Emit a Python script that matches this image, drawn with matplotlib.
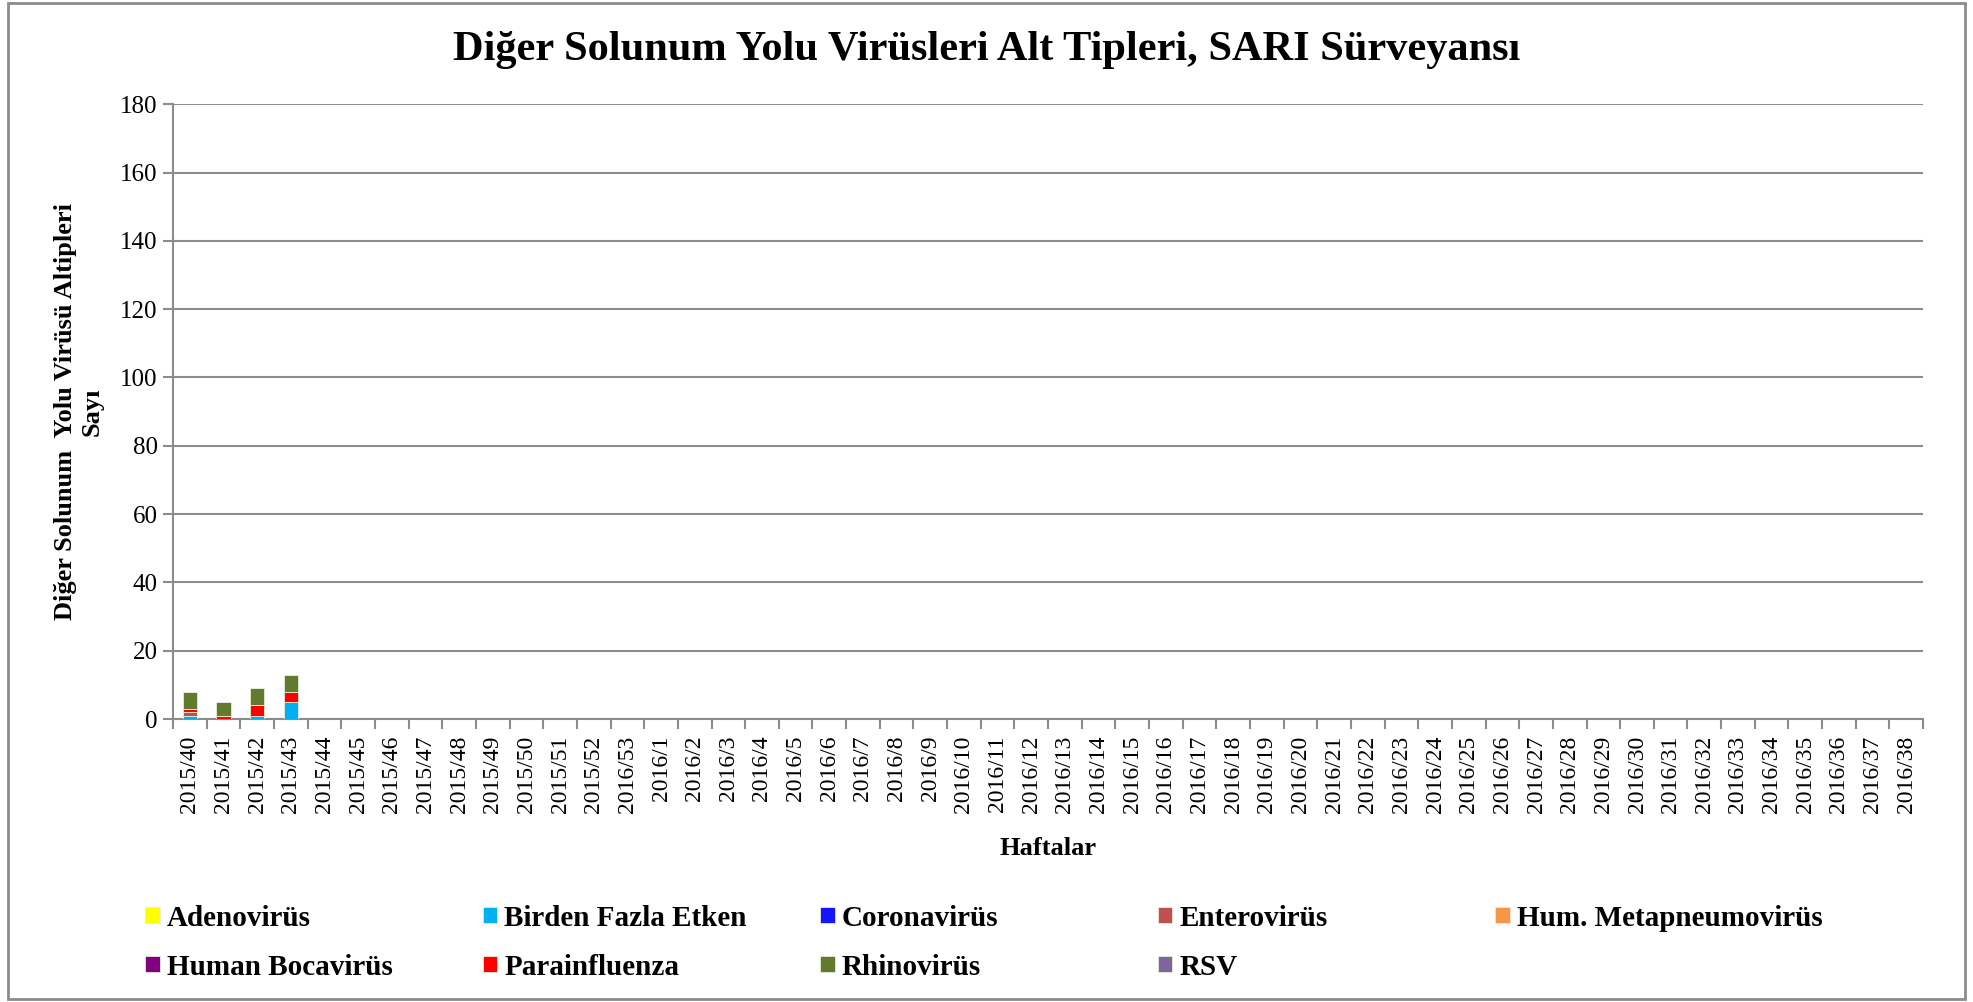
import numpy as np
import matplotlib.pyplot as plt
from matplotlib.patches import Rectangle

weeks = [f"2015/{w}" for w in range(40, 53)] + ["2016/53"] + [f"2016/{w}" for w in range(1, 39)]

series_names = ["Adenovirüs", "Birden Fazla Etken", "Coronavirüs", "Enterovirüs",
                "Hum. Metapneumovirüs", "Human Bocavirüs", "Parainfluenza",
                "Rhinovirüs", "RSV"]
series_colors = ["#FFFF00", "#00B0F0", "#1414FF", "#C0504D", "#F79646",
                 "#800080", "#FF0000", "#617A2E", "#8064A2"]

# first four weeks have data, rest zero
adeno = [0, 0, 0, 0]
birden = [1, 0, 1, 5]
corona = [0, 0, 0, 0]
entero = [1, 0, 0, 0]
metapneumo = [0, 0, 0, 0]
bocavirus = [0, 0, 0, 0]
parainfluenza = [1, 1, 3, 3]
rhino = [5, 4, 5, 5]
rsv = [0, 0, 0, 0]

data = [adeno, birden, corona, entero, metapneumo, bocavirus, parainfluenza, rhino, rsv]

n = len(weeks)
x = np.arange(n)

plt.rcParams['font.family'] = ['Liberation Serif', 'DejaVu Serif']

fig = plt.figure(figsize=(19.73, 10.02), dpi=100)
ax = fig.add_axes([0.0877, 0.2824, 0.887, 0.6136])

bottom = np.zeros(n)
handles = []
for name, col, vals in zip(series_names, series_colors, data):
    v = np.zeros(n)
    v[:len(vals)] = vals
    b = ax.bar(x, v, 0.42, bottom=bottom, color=col, label=name, zorder=3,
               edgecolor="#e8ecd8", linewidth=0.6)
    handles.append(b)
    bottom += v

ax.set_xlim(-0.5, n - 0.5)
ax.set_ylim(0, 180)
ax.set_yticks(range(0, 181, 20))
ax.yaxis.grid(True, color="#8c8c8c", linewidth=1.5, zorder=0)
ax.set_axisbelow(True)

ax.set_xticks(x)
ax.set_xticklabels(weeks, rotation=90, fontsize=17)
ax.set_xticks(np.arange(-0.5, n, 1), minor=True)
ax.tick_params(axis='x', which='major', length=0, pad=12)
ax.tick_params(axis='x', which='minor', length=7, color="#8c8c8c", width=1.5)
ax.tick_params(axis='y', labelsize=18, length=7, color="#8c8c8c", width=1.5, pad=4)

for s in ["top", "right"]:
    ax.spines[s].set_visible(False)
for s in ["left", "bottom"]:
    ax.spines[s].set_color("#8c8c8c")
    ax.spines[s].set_linewidth(1.5)

ax.set_xlabel("Haftalar", fontsize=19, fontweight="bold", labelpad=17)
ax.set_ylabel("Diğer Solunum  Yolu Virüsü Altipleri\nSayı", fontsize=19,
              fontweight="bold", labelpad=12)

fig.text(0.5, 0.95, "Diğer Solunum Yolu Virüsleri Alt Tipleri, SARI Sürveyansı",
         fontsize=30.5, fontweight="bold", ha="center", va="center")

# legend laid out row-wise, 5 equally spaced columns
rows = [0.0838, 0.0349]
for i, (h, name) in enumerate(zip(handles, series_names)):
    r, c = divmod(i, 5)
    fig.legend([h], [name], loc="center left",
               bbox_to_anchor=(0.0735 + c * 0.1711, rows[r]),
               frameon=False, borderpad=0, borderaxespad=0,
               handlelength=0.5, handleheight=0.5, handletextpad=0.25,
               prop={'size': 21, 'weight': 'bold'})

fig.patches.append(Rectangle((0.004, 0.003), 0.992, 0.994, transform=fig.transFigure,
                             fill=False, edgecolor="#8c8c8c", linewidth=2))

fig.savefig("out.png", dpi=100)
